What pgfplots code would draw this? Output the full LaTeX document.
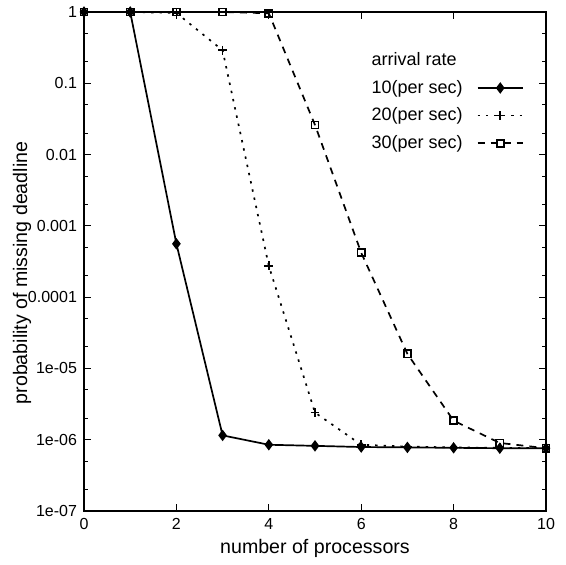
\documentclass[border=0pt]{standalone}
\usepackage{fontspec}
\setmainfont{Liberation Sans}
\usepackage{pgfplots}
\pgfplotsset{compat=1.18}
\begin{document}
\begin{tikzpicture}
\begin{axis}[
  at={(0,0)}, anchor=south west,
  scale only axis, width=231pt, height=249.5pt,
  xmin=0, xmax=10, ymode=log, ymin=1e-7, ymax=1,
  xtick={0,2,4,6,8,10},
  ytick={1e-7,1e-6,1e-5,1e-4,1e-3,1e-2,1e-1,1},
  yticklabels={1e-07,1e-06,1e-05,0.0001,0.001,0.01,0.1,1},
  minor ytick={2e-7,5e-7,2e-6,5e-6,2e-5,5e-5,2e-4,5e-4,2e-3,5e-3,2e-2,5e-2,0.2,0.5},
  /pgf/number format/assume math mode=true,
  tick align=inside,
  major tick length=3.5pt, minor tick length=2pt,
  tick style={black, line width=0.5pt},
  axis line style={line width=0.6pt},
  ticklabel style={font=\fontsize{8}{9.5}\selectfont},
  xlabel={number of processors},
  ylabel={probability of missing deadline},
  xlabel style={font=\fontsize{9.8}{11}\selectfont, at={(axis description cs:0.5,0)}, anchor=center, yshift=-18.5pt},
  ylabel style={font=\fontsize{9.8}{12}\selectfont, at={(axis description cs:0,0.477)}, anchor=center, yshift=31pt},
  legend plot pos=right,
  legend cell align=left,
  legend style={at={(rel axis cs:0.613,0.928)}, anchor=north west, draw=none, fill=none,
    inner sep=0pt, font=\fontsize{9}{11}\selectfont, row sep=1.8pt,
    /tikz/every odd column/.style={column sep=5pt}},
  legend image code/.code={\draw[mark repeat=2,mark phase=2] plot coordinates {(0cm,0cm) (0.4cm,0cm) (0.8cm,0cm)};},
]
\addlegendimage{empty legend}
\addlegendentry{arrival rate}
\addplot[black, line width=0.85pt, mark=diamond*, mark size=2.2pt, mark options={solid}] coordinates {
(0,1) (1,1) (2,5.6e-4) (3,1.15e-6) (4,8.5e-7) (5,8.2e-7) (6,7.9e-7) (7,7.8e-7) (8,7.7e-7) (9,7.6e-7) (10,7.6e-7)};
\addlegendentry{10(per sec)}
\addplot[black, line width=0.85pt, dash pattern=on 1.2pt off 3pt, mark=+, mark size=2.2pt, mark options={solid}] coordinates {
(0,1) (1,1) (2,0.97) (3,0.29) (4,2.75e-4) (5,2.4e-6) (6,8.5e-7) (7,8e-7) (8,7.8e-7) (9,7.7e-7) (10,7.6e-7)};
\addlegendentry{20(per sec)}
\addplot[black, line width=0.85pt, dash pattern=on 3.5pt off 3pt, mark=square, mark size=1.8pt, mark options={solid}] coordinates {
(0,1) (1,1) (2,1) (3,1) (4,0.96) (5,0.026) (6,4.2e-4) (7,1.6e-5) (8,1.85e-6) (9,9e-7) (10,7.6e-7)};
\addlegendentry{30(per sec)}
\end{axis}
\pgfresetboundingbox
\path (-42pt,-27pt) rectangle (241pt,255.5pt);
\end{tikzpicture}
\end{document}
